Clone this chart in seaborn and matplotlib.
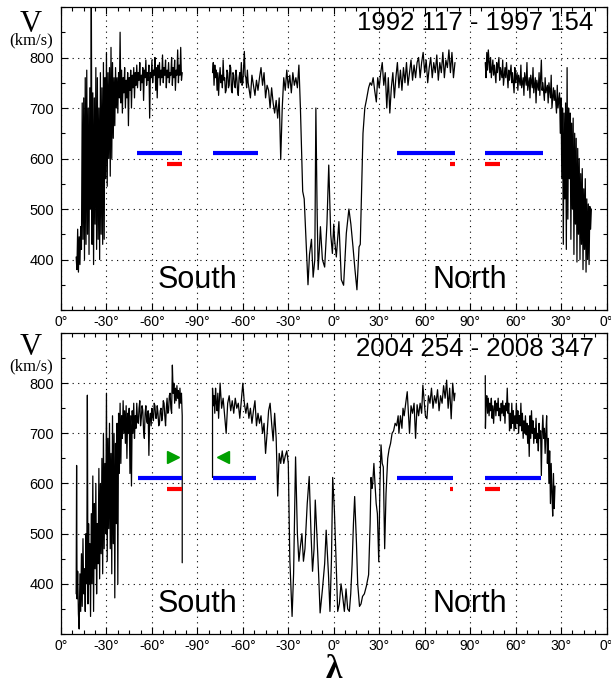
import matplotlib
matplotlib.use("Agg")
import matplotlib.pyplot as plt
from matplotlib.ticker import MultipleLocator, FixedLocator, FixedFormatter
import seaborn as sns

# ---------------- data ----------------
tick_pos = [0, 30, 60, 90, 120, 150, 180, 210, 240, 270, 300, 330, 360]
tick_lab = ['0°', '-30°', '-60°', '-90°', '-60°', '-30°', '0°', '30°', '60°', '90°', '60°', '30°', '0°']
y_ticks = [400, 500, 600, 700, 800]

titles = ['1992 117 - 1997 154', '2004 254 - 2008 347']

top_a = [(10.0,405),(10.5,380),(11.0,460),(11.5,375),(12.0,445),(12.5,390),(13.0,465),(13.5,420),(14.0,710),(14.5,440),
         (15.0,720),(15.5,400),(16.0,760),(16.5,430),(17.0,775),(17.5,450),(18.0,700),(18.5,410),(19.0,740),(19.5,500),
         (20.0,935),(20.5,430),(21.0,730),(21.5,390),(22.0,720),(22.5,470),(23.0,780),(23.5,420),(24.0,760),(24.5,440),
         (25.0,700),(25.5,400),(26.0,770),(26.5,450),(27.0,740),(27.5,430),(28.0,790),(28.5,440),(29.0,760),(29.5,560),
         (30.0,810),(30.5,545),(31.0,770),(31.5,600),(32.0,780),(32.5,565),(33.0,820),(33.5,600),(34.0,790),(34.5,640),
         (35.0,760),(35.5,665),(36.0,780),(36.5,700),(37.0,760),(37.5,690),(38.0,770),(38.5,720),(39.0,850),(39.5,710),
         (40.0,775),(40.5,690),(41.0,760),(41.5,730),(42.0,780),(42.5,700),(43.0,755),(43.5,720),(44.0,770),(44.5,665),
         (45.0,760),(45.5,735),(46.0,775),(46.5,700),(47.0,765),(47.5,740),(48.0,780),(48.5,720),(49.0,770),(49.5,745),
         (50.0,785),(50.5,740),(51.0,770),(51.5,755),(52.0,790),(52.5,735),(53.0,765),(53.5,750),(54.0,780),(54.5,715),
         (55.0,775),(55.5,760),(56.0,795),(56.5,745),(57.0,770),(57.5,755),(58.0,785),(58.5,680),(59.0,770),(59.5,760),
         (60.0,795),(60.5,750),(61.0,775),(61.5,765),(62.0,800),(62.5,735),(63.0,780),(63.5,720),(64.0,785),(64.5,760),
         (65.0,790),(65.5,745),(66.0,775),(66.5,760),(67.0,805),(67.5,750),(68.0,780),(68.5,765),(69.0,795),(69.5,740),
         (70.0,775),(70.5,760),(71.0,790),(71.5,750),(72.0,770),(72.5,765),(73.0,800),(73.5,745),(74.0,780),(74.5,760),
         (75.0,795),(75.5,735),(76.0,775),(76.5,765),(77.0,815),(77.5,750),(78.0,785),(78.5,765),(79.0,820),(79.5,755),
         (80.0,770)]

top_b = [(100.0,770),(100.5,790),(101.0,745),(101.5,785),(102.0,760),(102.5,775),(103.0,735),(103.5,770),(104.0,725),(104.5,760),
         (105.0,780),(105.5,750),(106.0,765),(106.5,740),(107.0,795),(107.5,755),(108.0,760),(108.5,730),(109.0,735),(109.5,775),
         (110.0,770),(110.5,740),(111.0,745),(111.5,785),(112.0,780),(112.5,735),(113.0,730),(113.5,770),(114.0,765),(114.5,745),
         (115.0,740),(115.5,775),(116.0,760),(116.5,735),(117.0,725),(117.5,760),(118.0,770),(118.5,750),(119.0,790),(119.5,745),
         (120.0,750),(120.5,780),(121.0,812),(121.5,765),(122.0,760),(122.5,740),(123.0,775),(123.5,750),(124.0,740),(125.0,720),
         (126.0,765),(127.0,745),(128.0,725),(129.0,755),(130.0,735),(131.0,760),(132.0,780),(133.0,745),(134.0,770),(135.0,720),
         (136.0,745),(137.0,735),(138.0,700),(139.0,740),(140.0,710),(141.0,690),(142.0,715),(143.0,680),(144.0,720),(145.0,598),
         (146.0,700),(147.0,760),(148.0,735),(149.0,775),(150.0,740),(151.0,765),(152.0,730),(153.0,770),(154.0,745),(155.0,760),
         (156.0,740),(157.0,785),(158.0,700),(159.5,535),(160.5,520),(162.0,420),(163.0,350),(164.0,410),(165.3,440),(166.4,365),
         (167.5,400),(168.2,700),(169.0,500),(169.7,380),(170.5,420),(171.2,465),(172.5,400),(174.0,385),(175.5,470),(176.7,587),
         (178.0,450),(179.1,412),(180.0,470),(180.6,438),(181.7,405),(183.4,475),(185.0,360),(186.5,349),(188.3,452),(190.0,500),
         (191.3,470),(192.7,425),(194.0,380),(195.3,340),(196.7,425),(197.5,430),(198.5,550),(199.3,650),(200.5,700),(201.5,715),
         (203.0,740),(204.0,750),(205.0,745),(206.0,760),(207.0,735),(208.1,712),(209.0,760),(210.0,740),(211.0,770),(212.0,790),
         (213.0,745),(214.0,770),(215.0,700),(216.0,760),(217.0,690),(218.0,740),(219.0,770),(220.0,720),(221.0,760),(222.0,790),
         (223.0,740),(224.0,775),(225.0,735),(226.0,780),(227.0,750),(228.0,790),(229.0,745),(230.0,770),(231.0,795),(232.0,755),
         (233.0,785),(234.0,760),(235.0,790),(236.0,800),(237.0,760),(238.0,790),(239.0,810),(240.0,770),(241.0,795),(242.0,750),
         (243.0,780),(244.0,800),(245.0,760),(246.0,790),(247.0,770),(248.0,805),(249.0,755),(250.0,790),(251.0,770),(252.0,810),
         (253.0,760),(254.0,795),(255.0,780),(256.0,815),(257.0,770),(258.0,810),(259.0,760),(260.0,790)]

top_c = [(280.0,790),(280.5,760),(281.0,810),(281.5,775),(282.0,815),(283.0,770),(283.5,800),(284.0,760),(285.0,795),(285.5,765),
         (286.0,785),(287.0,750),(287.5,790),(288.0,770),(289.0,800),(289.5,755),(290.0,780),(291.0,760),(291.5,795),(292.0,745),
         (293.0,780),(293.5,760),(294.0,790),(295.0,740),(295.5,775),(296.0,755),(297.0,785),(297.5,750),(298.0,770),(299.0,730),
         (299.5,780),(300.0,750),(301.0,770),(301.5,735),(302.0,765),(303.0,745),(303.5,785),(304.0,740),(305.0,760),(305.5,725),
         (306.0,770),(307.0,745),(307.5,790),(308.0,735),(309.0,760),(309.5,720),(310.0,765),(311.0,740),(311.5,780),(312.0,730),
         (313.0,760),(313.5,710),(314.0,755),(315.0,735),(315.5,770),(316.0,725),(317.0,795),(317.5,735),(318.0,750),(319.0,715),
         (319.5,760),(320.0,730),(321.0,745),(321.5,710),(322.0,750),(323.0,720),(323.5,765),(324.0,700),(325.0,740),(325.5,715),
         (326.0,735),(327.0,690),(327.5,745),(328.0,700),(329.0,730),(329.5,650),(330.0,720),(330.5,560),(331.0,700),(331.5,430),
         (332.0,690),(332.5,520),(333.0,710),(333.5,420),(334.0,780),(334.5,480),(335.0,700),(335.5,560),(336.0,690),(336.5,440),
         (337.0,670),(337.5,500),(338.0,680),(338.5,410),(339.0,650),(339.5,470),(340.0,640),(340.5,395),(341.0,620),(341.5,450),
         (342.0,600),(342.5,400),(343.0,570),(343.5,430),(344.0,580),(344.5,380),(345.0,540),(345.5,420),(346.0,560),(346.5,375),
         (347.0,520),(347.5,400),(348.0,510),(348.5,390),(349.0,505),(349.5,460),(350.0,500)]

bot_a = [(10.0,380),(10.3,636),(10.6,370),(11.0,425),(11.5,340),(12.0,310),(12.5,420),(13.0,345),(13.5,460),(14.0,355),
         (14.5,490),(15.0,380),(15.5,430),(16.0,345),(16.5,500),(17.0,400),(17.4,776),(17.8,360),(18.2,520),(18.6,400),
         (19.0,480),(19.5,335),(20.0,540),(20.5,400),(21.0,615),(21.5,345),(22.0,560),(22.5,430),(23.0,600),(23.5,380),
         (24.0,520),(24.5,440),(25.0,630),(25.5,410),(26.0,600),(26.5,460),(27.0,650),(27.5,420),(28.0,700),(28.5,470),
         (29.0,640),(29.5,500),(30.0,780),(30.5,445),(31.0,690),(31.5,510),(32.0,720),(32.5,470),(33.0,660),(33.5,420),
         (34.0,735),(34.5,480),(35.0,700),(35.5,372),(36.0,680),(36.5,520),(37.0,720),(37.5,400),(38.0,740),(38.5,620),
         (39.0,760),(39.5,640),(40.0,735),(40.5,690),(41.0,765),(41.5,700),(42.0,745),(42.5,680),(43.0,755),(43.5,650),
         (44.0,740),(44.5,700),(45.0,750),(45.5,620),(46.0,735),(46.5,595),(47.0,745),(47.5,700),(48.0,760),(48.5,690),
         (49.0,735),(49.5,710),(50.0,760),(50.5,725),(51.0,720),(51.5,750),(52.0,765),(52.5,715),(53.0,730),(53.5,755),
         (54.0,745),(54.5,705),(55.0,690),(55.5,740),(56.0,755),(56.5,725),(57.0,720),(57.5,745),(58.0,656),(58.5,730),
         (59.0,740),(59.5,715),(60.0,750),(60.5,735),(61.0,725),(61.5,760),(62.0,755),(62.5,730),(63.0,730),(63.5,755),
         (64.0,740),(64.5,715),(65.0,720),(65.5,745),(66.0,750),(66.5,725),(67.0,735),(67.5,765),(68.0,760),(68.5,735),
         (69.0,715),(69.5,750),(70.0,770),(70.5,740),(71.0,745),(71.5,775),(72.0,780),(72.5,750),(73.0,740),(73.5,836),
         (74.0,780),(74.5,800),(75.0,760),(75.5,790),(76.0,765),(76.5,795),(77.0,770),(77.5,785),(78.0,750),(78.5,790),
         (79.0,760),(79.5,780),(80.0,735),(80.0,442)]

bot_b = [(100.0,612),(100.0,790),(100.5,755),(101.0,775),(101.5,740),(102.0,790),(102.5,760),(103.0,745),(103.5,780),(104.0,730),
         (104.5,765),(105.0,800),(106.0,750),(107.0,770),(108.0,735),(109.0,700),(110.0,760),(111.0,775),(112.0,745),(113.0,765),
         (114.0,740),(115.0,770),(116.0,750),(117.0,760),(118.0,730),(119.0,765),(120.0,800),(121.0,760),(122.0,740),(123.0,760),
         (124.0,730),(125.0,750),(126.0,720),(127.0,745),(128.0,765),(129.0,715),(130.0,740),(131.0,720),(132.0,735),(133.0,700),
         (134.0,720),(135.0,660),(136.0,700),(137.0,745),(138.0,760),(139.0,720),(140.0,685),(141.0,740),(142.0,690),(143.0,575),
         (144.0,660),(145.0,640),(146.0,665),(147.0,640),(148.0,655),(149.0,665),(150.0,640),(151.0,450),(152.5,335),(153.5,420),
         (154.8,653),(156.0,500),(157.0,445),(158.0,475),(159.0,500),(160.0,445),(161.0,470),(162.5,560),(163.8,614),(165.0,500),
         (166.0,425),(167.0,470),(167.8,567),(169.0,490),(170.0,420),(171.0,342),(172.5,388),(174.0,440),(175.0,507),(176.5,420),
         (177.5,345),(178.5,450),(179.3,612),(180.4,548),(181.5,450),(182.6,345),(183.7,360),(184.8,400),(185.9,375),(187.0,345),
         (188.1,390),(189.2,350),(190.3,345),(191.2,380),(192.1,438),(193.0,520),(193.8,574),(195.0,480),(195.8,400),(197.0,355),
         (198.0,360),(199.0,375),(200.2,380),(201.5,395),(203.0,418),(204.0,520),(204.6,612),(205.2,590),(205.7,600),(206.5,640),
         (207.2,600),(208.0,560),(208.8,540),(209.7,444),(210.5,600),(211.2,677),(212.0,640),(212.7,633),(213.6,470),(214.5,580),
         (215.6,650),(216.5,668),(217.5,680),(218.5,700),(219.5,705),(220.5,720),(221.5,715),(222.5,735),(223.0,700),(224.0,735),
         (225.0,710),(225.7,750),(226.5,735),(227.5,760),(228.5,783),(229.3,740),(230.0,700),(231.0,755),(232.0,740),(233.0,760),
         (234.0,690),(235.0,757),(236.0,735),(237.0,760),(238.0,740),(238.8,796),(239.5,770),(240.5,735),(241.5,729),(242.5,775),
         (243.5,760),(244.5,790),(245.5,750),(246.5,775),(247.5,760),(248.5,787),(249.5,745),(250.5,775),(251.5,760),(252.5,795),
         (253.5,770),(254.5,806),(255.5,750),(256.5,790),(257.5,729),(258.5,800),(259.5,765),(260.0,780)]

bot_c = [(280.0,815),(280.1,710),(280.5,760),(281.0,775),(281.5,740),(282.0,770),(282.5,735),(283.0,760),(283.5,745),(284.0,770),
         (284.5,730),(285.0,755),(285.5,720),(286.0,750),(286.5,765),(287.0,735),(287.5,760),(288.0,745),(288.5,770),(289.0,735),
         (289.5,750),(290.0,725),(290.5,760),(291.0,740),(291.5,765),(292.0,735),(292.5,755),(293.0,720),(293.5,760),(294.0,745),
         (294.5,790),(295.0,740),(295.5,760),(296.0,705),(296.5,740),(297.0,710),(297.5,760),(298.0,720),(298.5,745),(299.0,705),
         (299.5,735),(300.0,710),(300.5,760),(301.0,720),(301.5,745),(302.0,700),(302.5,735),(303.0,715),(303.5,760),(304.0,705),
         (304.5,740),(305.0,690),(305.5,725),(306.0,700),(306.5,735),(307.0,697),(307.5,720),(308.0,680),(308.5,715),(309.0,654),
         (309.5,735),(310.0,690),(310.5,745),(311.0,700),(311.5,725),(312.0,680),(312.5,710),(313.0,690),(313.5,730),(314.0,681),
         (314.5,700),(315.0,665),(315.5,720),(316.0,690),(316.5,705),(317.0,616),(317.5,700),(318.0,736),(318.5,690),(319.0,710),
         (319.5,660),(320.0,700),(320.5,735),(321.0,640),(321.5,690),(322.0,600),(322.5,665),(323.0,560),(323.5,640),(324.0,580),
         (324.5,535),(325.0,620),(325.5,550),(326.0,595)]

# interval bars: (start, end)
top_blue = [(50, 80), (100, 130), (222, 260), (280, 318)]
top_red = [(70, 80), (257, 260), (280, 290)]
bot_blue = [(51, 80), (100, 129), (222, 259), (280, 317)]
bot_red = [(70, 80), (257, 259), (280, 290)]
blue_level = 610
red_level = 590
green_right = (73.6, 652)
green_left = (107.0, 652)

# ---------------- style ----------------
sns.set_theme(style="ticks")
plt.rcParams['font.family'] = ['Liberation Sans', 'DejaVu Sans']
plt.rcParams['axes.linewidth'] = 0.9

W, H = 611, 686
fig = plt.figure(figsize=(W / 100, H / 100), dpi=100)
ax1 = fig.add_axes([61 / W, (H - 310) / H, 545.5 / W, 303 / H])
ax2 = fig.add_axes([61 / W, (H - 634) / H, 545.5 / W, 301 / H])

panels = [
    (ax1, [top_a, top_b, top_c], titles[0], top_blue, top_red, False),
    (ax2, [bot_a, bot_b, bot_c], titles[1], bot_blue, bot_red, True),
]

for ax, segs, title, blues, reds, show_green in panels:
    ax.set_facecolor('white')
    for seg in segs:
        xs = [p[0] for p in seg]
        vs = [p[1] for p in seg]
        sns.lineplot(x=xs, y=vs, ax=ax, color='black', linewidth=0.9,
                     estimator=None, sort=False)
    ax.hlines([blue_level] * len(blues), [b[0] for b in blues], [b[1] for b in blues],
              color='#0000ff', linewidth=3.0, zorder=3)
    ax.hlines([red_level] * len(reds), [r[0] for r in reds], [r[1] for r in reds],
              color='#ff0000', linewidth=3.0, zorder=3)
    if show_green:
        ax.plot([green_right[0]], [green_right[1]], marker='>', color='#00a000',
                markersize=9, linestyle='none', zorder=4)
        ax.plot([green_left[0]], [green_left[1]], marker='<', color='#00a000',
                markersize=9, linestyle='none', zorder=4)

    ax.set_xlim(0, 360)
    ax.set_ylim(300, 900)
    ax.xaxis.set_major_locator(FixedLocator(tick_pos))
    ax.xaxis.set_major_formatter(FixedFormatter(tick_lab))
    ax.xaxis.set_minor_locator(MultipleLocator(7.5))
    ax.yaxis.set_major_locator(FixedLocator(y_ticks))
    ax.yaxis.set_minor_locator(MultipleLocator(50))
    ax.tick_params(which='both', direction='in', top=True, right=True,
                   color='black', width=0.8, labelcolor='black')
    ax.tick_params(which='major', length=5)
    ax.tick_params(which='minor', length=3)
    ax.tick_params(axis='x', labelsize=10, pad=3.5)
    ax.tick_params(axis='y', labelsize=10.5, pad=5)
    ax.grid(True, which='major', color='black', linestyle=(0, (1, 4)), linewidth=0.8)
    ax.set_axisbelow(True)
    for sp in ax.spines.values():
        sp.set_color('black')
        sp.set_linewidth(0.9)
    ax.set_xlabel('')
    ax.set_ylabel('')

    ax.text(0.976, 0.947, title, transform=ax.transAxes, ha='right', va='center',
            fontsize=18.5, color='black')
    ax.text(90, 360, 'South', ha='center', va='center', fontsize=22, color='black')
    ax.text(270, 360, 'North', ha='center', va='center', fontsize=22, color='black')

# axis labels
for vy, ky in [(32, 40), (355, 366)]:
    fig.text(31 / W, 1 - vy / H, 'V', family='Liberation Serif', fontsize=22,
             ha='center', va='baseline', color='black')
    fig.text(31 / W, 1 - ky / H, '(km/s)', family='Liberation Serif', fontsize=12,
             ha='center', va='center', color='black')
fig.text(334 / W, 1 - 670 / H, 'λ', family='Liberation Serif', fontweight='bold',
         fontsize=24, ha='center', va='center', color='black')

fig.savefig('out.png', dpi=100, facecolor='white')
